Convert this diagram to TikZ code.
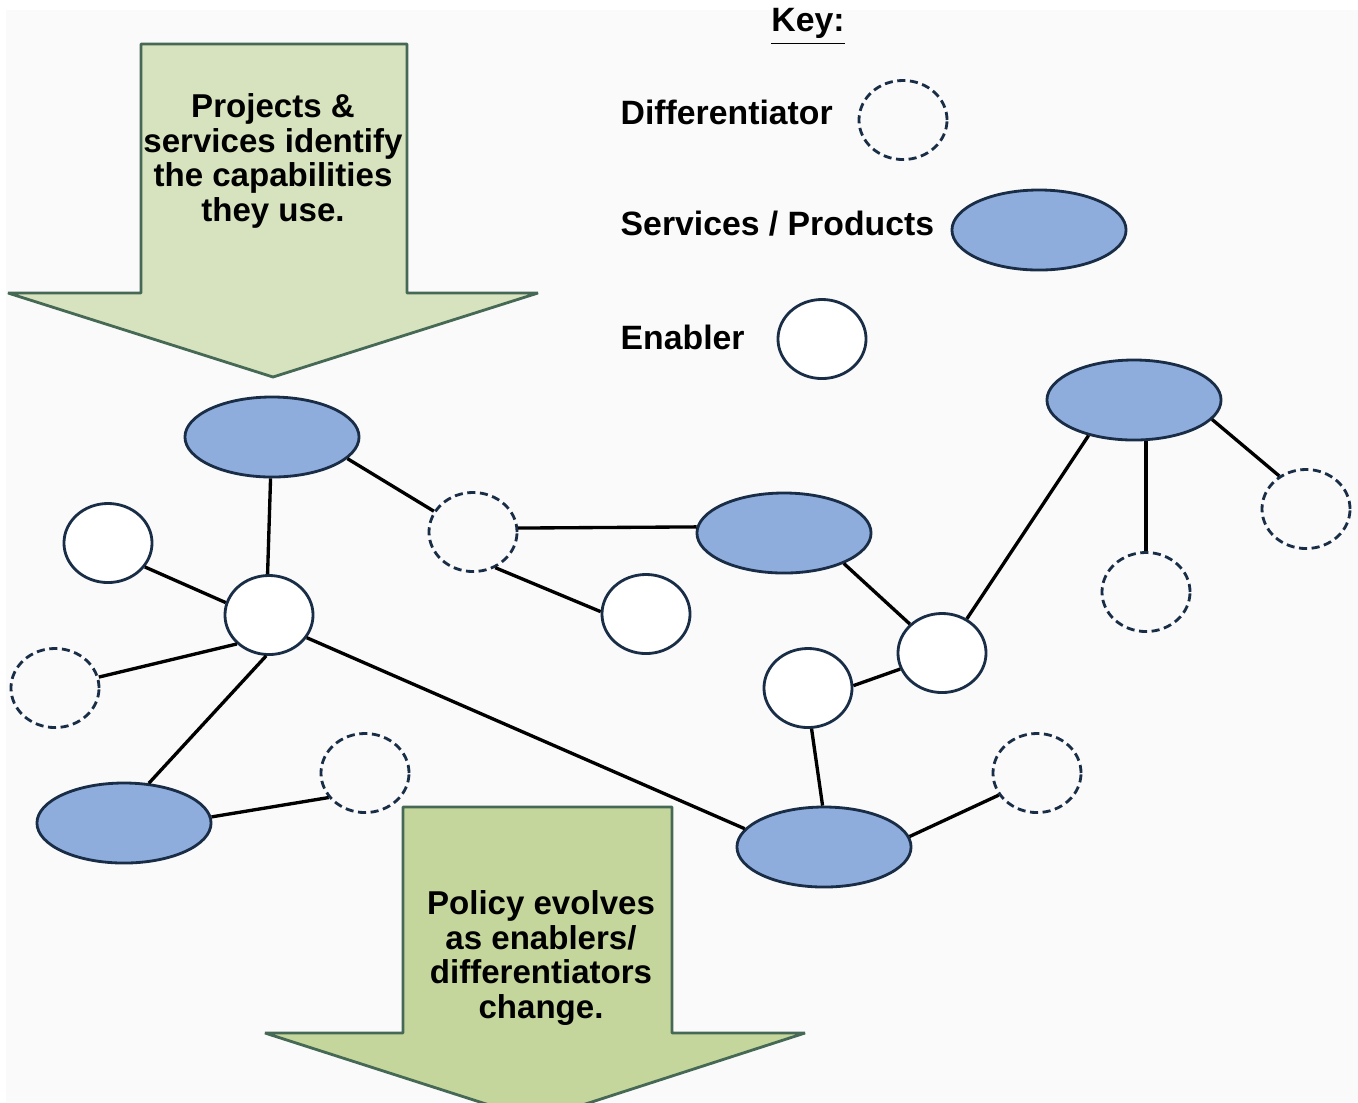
\documentclass[tikz,border=0pt]{standalone}
\usepackage{fontspec}
\setmainfont{Liberation Sans}
\usetikzlibrary{shapes.geometric}
\definecolor{bgc}{RGB}{250,250,250}
\definecolor{prodfill}{RGB}{142,172,220}
\definecolor{nodeline}{RGB}{25,45,70}
\definecolor{arrowA}{RGB}{215,227,190}
\definecolor{arrowB}{RGB}{196,214,155}
\definecolor{arrowline}{RGB}{70,105,85}
\tikzset{
  x=0.01cm, y=-0.01cm,
  prod/.style={ellipse, draw=nodeline, line width=0.8pt, fill=prodfill, minimum width=1.74cm, minimum height=0.8cm, inner sep=0pt},
  enab/.style={ellipse, draw=nodeline, line width=0.8pt, fill=white, minimum width=0.88cm, minimum height=0.79cm, inner sep=0pt},
  diff/.style={ellipse, draw=nodeline, line width=0.8pt, dash pattern=on 2.3pt off 1.3pt, fill=bgc, minimum width=0.88cm, minimum height=0.79cm, inner sep=0pt},
  link/.style={line width=0.95pt, black},
  bigarrow/.style={draw=arrowline, line width=0.8pt, line join=bevel},
  arrowtext/.style={align=center, font=\fontsize{9.4}{9.9}\selectfont\bfseries, inner sep=0pt},
  keytext/.style={anchor=west, font=\fontsize{9.6}{11}\selectfont\bfseries, inner sep=0pt},
}
\begin{document}
\begin{tikzpicture}
\useasboundingbox (0,0) rectangle (1358,1102);
\clip (0,0) rectangle (1358,1102);
\fill[white] (0,0) rectangle (1358,1102);
\fill[bgc] (6,10) rectangle (1358,1102);

% top arrow
\filldraw[bigarrow, fill=arrowA] (141,44) -- (407,44) -- (407,293) -- (538,293) -- (273,377) -- (8,293) -- (141,293) -- cycle;
\node[arrowtext] (toptext) at (273,161) {Projects \&\\services identify\\the capabilities\\they use.};

% bottom arrow
\filldraw[bigarrow, fill=arrowB] (403,807) -- (672,807) -- (672,1033) -- (805,1033) -- (536,1120) -- (265,1033) -- (403,1033) -- cycle;
\node[arrowtext] (bottext) at (541,958) {Policy evolves\\as enablers/\\differentiators\\change.};

% key
\node[font=\fontsize{9.6}{11}\selectfont\bfseries, inner sep=0pt] (keytitle) at (808,27) {\underline{Key:}};
\node[keytext] (kdifflabel) at (620,112) {Differentiator};
\node[diff] (kdiff) at (903,120) {};
\node[keytext] (kprodlabel) at (620,224) {Services / Products};
\node[prod] (kprod) at (1039,230) {};
\node[keytext] (kenablabel) at (620,337) {Enabler};
\node[enab] (kenab) at (822,339) {};

% network nodes
\node[prod] (p1) at (272,437) {};
\node[prod] (p2) at (784,533) {};
\node[prod] (p3) at (1134,400) {};
\node[prod] (p4) at (824,847) {};
\node[prod] (p5) at (124,823) {};

\node[enab] (c0) at (269,615) {};
\node[enab] (e1) at (108,543) {};
\node[enab] (e2) at (646,614) {};
\node[enab] (e3) at (942,653) {};
\node[enab] (e4) at (808,688) {};

\node[diff] (d1) at (473,532) {};
\node[diff] (d2) at (1306,509) {};
\node[diff] (d3) at (1146,592) {};
\node[diff] (d4) at (1037,773) {};
\node[diff] (d5) at (55,688) {};
\node[diff] (d6) at (365,773) {};

% connectors
\draw[link] (p1.-16) -- (d1.152);
\draw[link] (p1.-92) -- (c0.92);
\draw[link] (d1.5) -- (p2.176);
\draw[link] (d1.-58) -- (e2.177);
\draw[link] (p2.-27) -- (e3.138);
\draw[link] (e3.54) -- (p3.218);
\draw[link] (d3.north) -- (d3.north |- p3.south);
\draw[link] (p3.-14) -- (d2.129);
\draw[link] (e3.201) -- (e4.3);
\draw[link] (e4.-85) -- (p4.92);
\draw[link] (p4.7) -- (d4.210);
\draw[link] (c0.-31) -- (p4.167);
\draw[link] (c0.164) -- (e1.-33);
\draw[link] (c0.222) -- (d5.14);
\draw[link] (c0.-94) -- (p5.58);
\draw[link] (p5.4) -- (d6.214);
\end{tikzpicture}
\end{document}
